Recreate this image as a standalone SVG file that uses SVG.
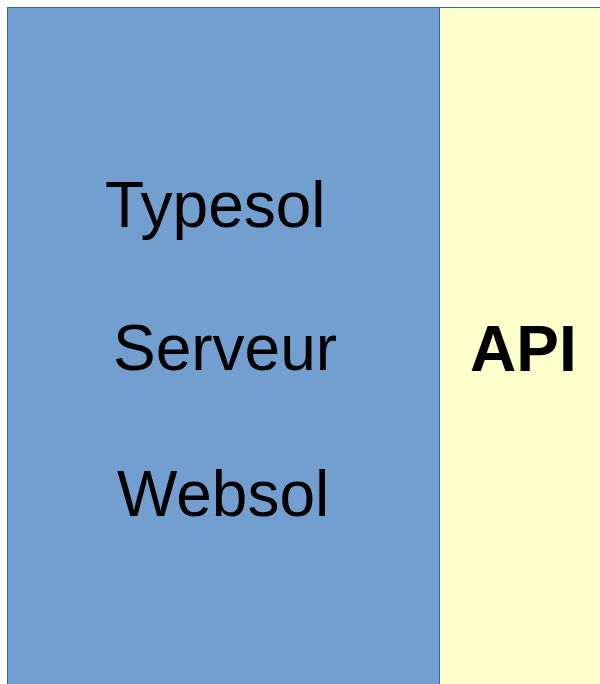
<svg xmlns="http://www.w3.org/2000/svg" width="600" height="684" viewBox="0 0 600 684">
<style>
.lbl{font-family:"Liberation Sans",Arial,sans-serif;font-size:64px;fill:#000}
.api{font-family:"Liberation Sans",Arial,sans-serif;font-size:64px;font-weight:bold;fill:#000}
</style>
<rect width="600" height="684" fill="#ffffff"/>
<g id="api">
<rect x="439.5" y="7.5" width="170" height="690" fill="#ffffcc" stroke="#3465a4" stroke-width="1"/>
<text class="api" x="470" y="371">API</text>
</g>
<g id="serveur">
<rect x="7.5" y="7.5" width="432" height="690" fill="#729fcf" stroke="#3465a4" stroke-width="1"/>
<text class="lbl" x="105" y="227">Typesol</text>
<text class="lbl" x="113" y="370">Serveur</text>
<text class="lbl" x="117" y="516">Websol</text>
</g>
<g id="connectors"></g>
</svg>
